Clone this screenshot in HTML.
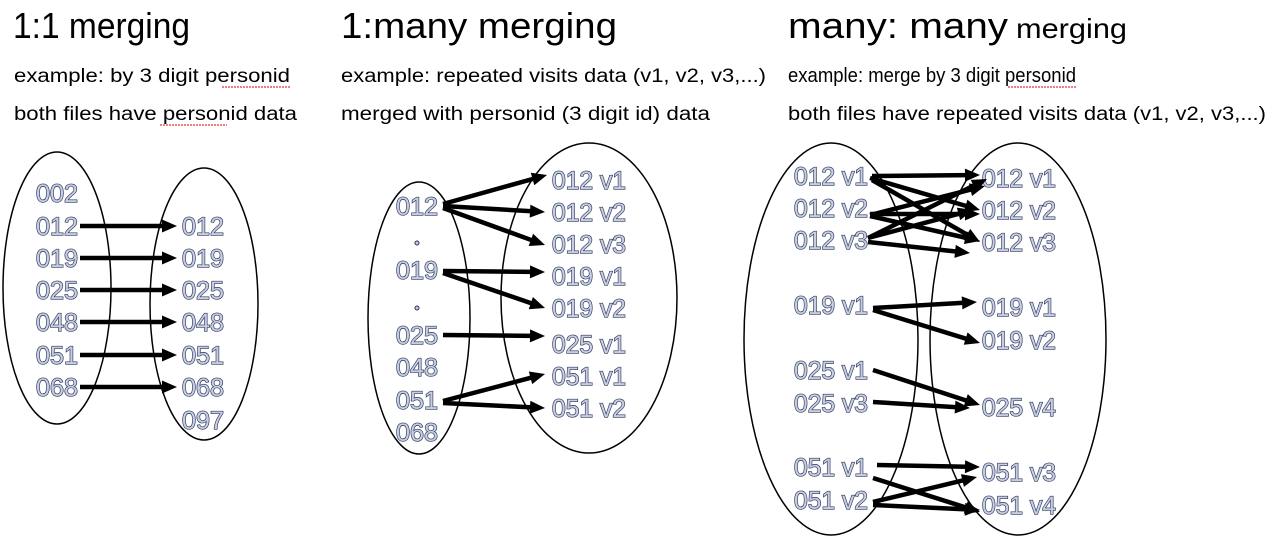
<!DOCTYPE html>
<html><head><meta charset="utf-8"><style>
html,body{margin:0;padding:0;background:#fff;}
svg{display:block;font-family:"Liberation Sans",sans-serif;}
.t{font-size:36px;fill:#000;}
.s{font-size:19px;fill:#000;}
.l{font-size:25px;fill:#c8cee2;stroke:#28345a;stroke-width:1.3px;paint-order:stroke;}
</style></head><body>
<svg id="d" width="1274" height="546" viewBox="0 0 1274 546">
<text class="t" x="13" y="38" textLength="177" lengthAdjust="spacingAndGlyphs">1:1 merging</text>
<text class="t" x="341" y="38" textLength="276" lengthAdjust="spacingAndGlyphs">1:many merging</text>
<text class="t" x="788" y="38" textLength="220" lengthAdjust="spacingAndGlyphs">many: many</text>
<text x="1016" y="38" style="font-size:28px" textLength="111" lengthAdjust="spacingAndGlyphs">merging</text>
<text class="s" x="14" y="82" textLength="276" lengthAdjust="spacingAndGlyphs">example: by 3 digit personid</text>
<text class="s" x="14" y="120" textLength="283" lengthAdjust="spacingAndGlyphs">both files have personid data</text>
<text class="s" x="341" y="82" textLength="425" lengthAdjust="spacingAndGlyphs">example: repeated visits data (v1, v2, v3,...)</text>
<text class="s" x="341" y="120" textLength="369" lengthAdjust="spacingAndGlyphs">merged with personid (3 digit id) data</text>
<text class="s" x="788" y="82" textLength="288" lengthAdjust="spacingAndGlyphs" style="font-size:20px">example: merge by 3 digit personid</text>
<text class="s" x="788" y="120" textLength="478" lengthAdjust="spacingAndGlyphs">both files have repeated visits data (v1, v2, v3,...)</text>
<g stroke="#d00" stroke-width="1" stroke-dasharray="2,1" fill="none">
<path d="M222 87 H290 M160 125 H227 M1008 87 H1076"/>
</g>
<g fill="none" stroke="#000" stroke-width="1.5">
<ellipse cx="57" cy="288" rx="54" ry="136"/>
<ellipse cx="204" cy="304" rx="54" ry="136"/>
<ellipse cx="419" cy="318" rx="51" ry="136"/>
<ellipse cx="589" cy="298" rx="88" ry="155"/>
<ellipse cx="831" cy="339" rx="87" ry="196"/>
<ellipse cx="1018" cy="339" rx="88" ry="196"/>
</g>
<circle cx="417" cy="243" r="2" fill="#c8cee2" stroke="#28345a"/>
<circle cx="417" cy="308" r="2" fill="#c8cee2" stroke="#28345a"/>
<g id="labels"></g><g id="arrows"></g>
</svg>
<script>
const labels1L=["002","012","019","025","048","051","068"];
const labels1LY=[193,226,258,290,322,355,387];
const labels1R=["012","019","025","048","051","068","097"];
const labels1RY=[226,258,290,322,355,387,420];
const labels2L=["012","019","025","048","051","068"];
const labels2LY=[206,270,335,367,400,432];
const labels2R=["012 v1","012 v2","012 v3","019 v1","019 v2","025 v1","051 v1","051 v2"];
const labels2RY=[180,212,244,276,308,344,376,408];
const labels3L=["012 v1","012 v2","012 v3","019 v1","025 v1","025 v3","051 v1","051 v2"];
const labels3LY=[176,208,240,305,370,403,467,500];
const labels3R=["012 v1","012 v2","012 v3","019 v1","019 v2","025 v4","051 v3","051 v4"];
const labels3RY=[178,210,242,307,340,407,472,505];
const arrows=[
[80,226,177,226],[80,258,177,258],[80,290,177,290],[80,322,177,322],[80,355,177,355],[80,387,177,387],
[443,204,547,175],[443,206,545,212],[443,208,545,245],[443,271,545,272],[443,273,545,308],[443,335,545,336],[443,401,545,374],[443,403,545,408],
[872,176,980,175],[870,178,980,210],[872,180,980,242],[870,215,985,186],[870,214,980,214],[870,216,980,241],[868,238,987,179],[868,238,973,210],[868,242,970,253],
[873,308,977,302],[873,310,980,343],[873,370,980,405],[873,402,970,408],[877,465,980,467],[873,478,980,512],[873,502,977,477],[873,505,980,510]
];
const NS="http://www.w3.org/2000/svg";
const lg=document.getElementById('labels');
function addLabels(arr,ys,x,w,prefix){
  arr.forEach((s,i)=>{
    const t=document.createElementNS(NS,'text');
    t.setAttribute('class','l');
    t.setAttribute('x',x);t.setAttribute('y',ys[i]+9);
    t.setAttribute('textLength',w);t.setAttribute('lengthAdjust','spacingAndGlyphs');
    t.textContent=s;
    
    
    lg.appendChild(t);
  });
}
addLabels(labels1L,labels1LY,36,42,'left-1-1');
addLabels(labels1R,labels1RY,182,42,'right-1-1');
addLabels(labels2L,labels2LY,396,42,'left-1-many');
addLabels(labels2R,labels2RY,552,74,'right-1-many');
addLabels(labels3L,labels3LY,794,74,'left-many');
addLabels(labels3R,labels3RY,982,74,'right-many');
const ag=document.getElementById('arrows');
const HL=15, HW=6.5;
arrows.forEach(a=>{
  const dx=a[2]-a[0], dy=a[3]-a[1], len=Math.hypot(dx,dy), ux=dx/len, uy=dy/len;
  const bx=a[2]-ux*HL, by=a[3]-uy*HL;
  const l=document.createElementNS(NS,'line');
  l.setAttribute('x1',a[0]);l.setAttribute('y1',a[1]);l.setAttribute('x2',bx+ux*2);l.setAttribute('y2',by+uy*2);
  l.setAttribute('stroke','#000');l.setAttribute('stroke-width','4.5');
  
  
  ag.appendChild(l);
  const p=document.createElementNS(NS,'polygon');
  p.setAttribute('points',`${a[2]},${a[3]} ${bx-uy*HW},${by+ux*HW} ${bx+uy*HW},${by-ux*HW}`);
  p.setAttribute('fill','#000');
  
  
  ag.appendChild(p);
});
</script>
</body></html>
